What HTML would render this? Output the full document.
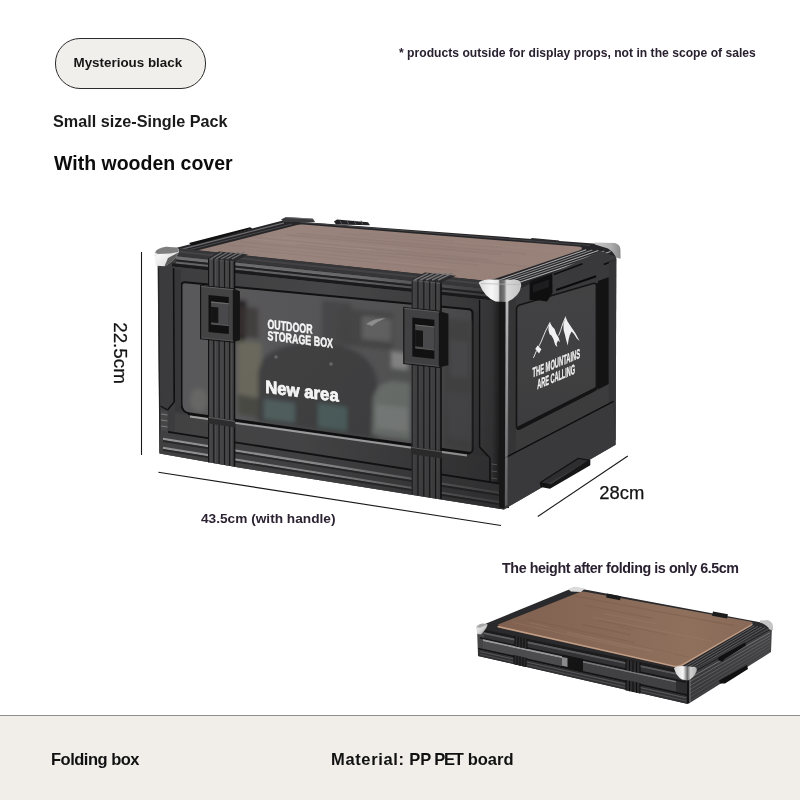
<!DOCTYPE html>
<html lang="en">
<head>
<meta charset="utf-8">
<title>Folding box - Mysterious black</title>
<style>
html,body{margin:0;padding:0;background:#fff;}
body{width:800px;height:800px;overflow:hidden;font-family:"Liberation Sans",sans-serif;}
.page{position:relative;width:800px;height:800px;background:#fff;overflow:hidden;}
.t{position:absolute;opacity:0.999;white-space:nowrap;font-weight:bold;line-height:1;margin:0;color:#111;}
.pill{position:absolute;left:55px;top:38px;width:149px;height:48.5px;border:1px solid #2b2b2b;border-radius:25px;background:#f1efeb;}
.pill span{position:absolute;opacity:0.999;left:17.5px;top:17px;font-weight:bold;font-size:13.4px;line-height:1;color:#161616;white-space:nowrap;}
.h1{left:53px;top:112.5px;font-size:16.2px;color:#1a1a1a;}
.h2{left:54px;top:154px;font-size:19.5px;color:#0c0c0c;}
.note{left:399px;top:47.3px;font-size:12.15px;color:#2a2130;}
.fold{left:502px;top:561.3px;font-size:14.3px;letter-spacing:-0.42px;color:#2a2130;}
.footer{position:absolute;left:0;top:715px;width:800px;height:85px;background:#f1eeea;border-top:1px solid #918d88;box-sizing:border-box;}
.f1{left:51px;top:35px;font-size:16.5px;letter-spacing:-0.5px;color:#111;}
.f2{left:331px;top:35px;font-size:16.5px;color:#111;}
.f2 .a{letter-spacing:0.64px;}
.f2 .b{letter-spacing:-1.25px;margin-left:-1.2px;}
.f2 .c{margin-left:0.4px;}
svg.art{position:absolute;left:0;top:0;width:800px;height:800px;}
svg.art text{font-family:"Liberation Sans",sans-serif;}

</style>
</head>
<body>
<div class="page">
<div class="pill"><span>Mysterious black</span></div>
<p class="t note">* products outside for display props, not in the scope of sales</p>
<h2 class="t h1">Small size-Single Pack</h2>
<h1 class="t h2">With wooden cover</h1>
<svg class="art" viewBox="0 0 800 800" width="800" height="800">
<defs>
<linearGradient id="wood" gradientUnits="userSpaceOnUse" x1="194" y1="0" x2="584" y2="0">
 <stop offset="0" stop-color="#927d77"/><stop offset="0.25" stop-color="#99847e"/><stop offset="0.6" stop-color="#968078"/><stop offset="1" stop-color="#98827a"/>
</linearGradient>
<linearGradient id="front" gradientUnits="userSpaceOnUse" x1="157" y1="0" x2="505" y2="0">
 <stop offset="0" stop-color="#4e4e50"/><stop offset="0.55" stop-color="#4a4a4c"/><stop offset="0.9" stop-color="#464648"/><stop offset="1" stop-color="#3c3c3e"/>
</linearGradient>
<linearGradient id="lidband" gradientUnits="userSpaceOnUse" x1="157" y1="0" x2="505" y2="0">
 <stop offset="0" stop-color="#4e4e50"/><stop offset="0.5" stop-color="#5a5a5c"/><stop offset="0.8" stop-color="#505052"/><stop offset="1" stop-color="#444446"/>
</linearGradient>
<linearGradient id="hl" gradientUnits="userSpaceOnUse" x1="157" y1="0" x2="505" y2="0">
 <stop offset="0" stop-color="#8e8e90"/><stop offset="0.6" stop-color="#868688"/><stop offset="1" stop-color="#4a4a4c"/>
</linearGradient>
<linearGradient id="lframe" gradientUnits="userSpaceOnUse" x1="157" y1="0" x2="505" y2="0"><stop offset="0" stop-color="#545456"/><stop offset="0.4" stop-color="#5a5a5c"/><stop offset="0.75" stop-color="#4c4c4e"/><stop offset="1" stop-color="#444446"/></linearGradient>
<linearGradient id="base" gradientUnits="userSpaceOnUse" x1="157" y1="0" x2="505" y2="0">
 <stop offset="0" stop-color="#525254"/><stop offset="0.4" stop-color="#565658"/><stop offset="0.75" stop-color="#4c4c4e"/><stop offset="1" stop-color="#464648"/>
</linearGradient>
<linearGradient id="basehl" gradientUnits="userSpaceOnUse" x1="157" y1="0" x2="505" y2="0">
 <stop offset="0" stop-color="#bcbcbe"/><stop offset="0.45" stop-color="#b4b4b6"/><stop offset="0.75" stop-color="#7a7a7c"/><stop offset="1" stop-color="#5a5a5c"/>
</linearGradient>
<linearGradient id="right" gradientUnits="userSpaceOnUse" x1="0" y1="260" x2="0" y2="500">
 <stop offset="0" stop-color="#4a4a4c"/><stop offset="0.5" stop-color="#4e4e50"/><stop offset="1" stop-color="#4a4a4c"/>
</linearGradient>
<linearGradient id="panel" gradientUnits="userSpaceOnUse" x1="0" y1="290" x2="0" y2="430">
 <stop offset="0" stop-color="#555557"/><stop offset="0.6" stop-color="#525254"/><stop offset="1" stop-color="#4e4e50"/>
</linearGradient>
<linearGradient id="glass" gradientUnits="userSpaceOnUse" x1="183" y1="0" x2="471" y2="0">
 <stop offset="0" stop-color="#737375"/><stop offset="0.3" stop-color="#707072"/><stop offset="0.75" stop-color="#6c6c6e"/><stop offset="1" stop-color="#606062"/>
</linearGradient>
<linearGradient id="silver" x1="0" y1="0" x2="1" y2="1">
 <stop offset="0" stop-color="#bdbdbd"/><stop offset="0.3" stop-color="#f6f6f6"/><stop offset="0.7" stop-color="#e2e2e2"/><stop offset="1" stop-color="#6f6f6f"/>
</linearGradient>
<linearGradient id="silverR" gradientUnits="userSpaceOnUse" x1="479" y1="0" x2="521" y2="0">
 <stop offset="0" stop-color="#d8d8d8"/><stop offset="0.3" stop-color="#f7f7f7"/><stop offset="0.46" stop-color="#e4e4e4"/><stop offset="0.5" stop-color="#5c5c5c"/><stop offset="0.6" stop-color="#777"/><stop offset="0.66" stop-color="#d9d9d9"/><stop offset="1" stop-color="#c4c4c4"/>
</linearGradient>
<linearGradient id="silverB" x1="0" y1="0" x2="1" y2="0">
 <stop offset="0" stop-color="#c8c8c8"/><stop offset="0.6" stop-color="#b0b0b0"/><stop offset="1" stop-color="#8a8a8a"/>
</linearGradient>
<pattern id="strapL" patternUnits="userSpaceOnUse" x="208" y="0" width="5.3" height="10">
 <rect x="0" y="0" width="5.3" height="10" fill="#58585a"/><rect x="0" y="0" width="1.4" height="10" fill="#161617"/><rect x="1.4" y="0" width="0.9" height="10" fill="#6c6c6e"/>
</pattern>
<pattern id="strapR" patternUnits="userSpaceOnUse" x="411.5" y="0" width="5.9" height="10">
 <rect x="0" y="0" width="5.9" height="10" fill="#555557"/><rect x="0" y="0" width="1.5" height="10" fill="#18181a"/><rect x="1.5" y="0" width="0.9" height="10" fill="#6c6c6e"/>
</pattern>
<filter id="b1" x="-20%" y="-20%" width="140%" height="140%"><feGaussianBlur stdDeviation="1"/></filter>
<filter id="b2" x="-20%" y="-20%" width="140%" height="140%"><feGaussianBlur stdDeviation="2.2"/></filter>
<filter id="b4" x="-30%" y="-30%" width="160%" height="160%"><feGaussianBlur stdDeviation="4"/></filter>
<filter id="b05" x="-20%" y="-20%" width="140%" height="140%"><feGaussianBlur stdDeviation="0.5"/></filter>
</defs>
<g id="mainbox">
<polygon points="156.0,253.0 283.0,220.5 600.0,244.0 617.0,249.0 618.0,256.0 512.0,292.0 160.0,258.0" fill="#262628" />
<polygon points="189.0,243.0 250.0,227.3 252.5,228.6 192.0,245.5" fill="#111112" />
<line x1="178.0" y1="250.2" x2="284.0" y2="222.8" stroke="#6e6e70" stroke-width="1.2" />
<line x1="186.0" y1="250.6" x2="292.0" y2="224.0" stroke="#4a4a4c" stroke-width="1" />
<polygon points="281.0,219.5 286.0,217.0 313.0,218.7 315.0,222.0 284.0,222.0" fill="#3a3a3c" />
<line x1="286.0" y1="217.5" x2="313.0" y2="219.0" stroke="#77777a" stroke-width="0.8" />
<polygon points="528.0,240.5 532.0,238.0 559.0,240.5 561.0,244.0 530.0,243.0" fill="#2c2c2e" />
<polygon points="334.0,221.6 337.0,219.6 368.0,222.2 370.0,225.2 336.0,224.4" fill="#222224" />
<line x1="340.0" y1="220.6" x2="342.0" y2="224.6" stroke="#5a5a5c" stroke-width="0.9" />
<line x1="347.0" y1="220.6" x2="349.0" y2="224.6" stroke="#5a5a5c" stroke-width="0.9" />
<line x1="354.0" y1="220.6" x2="356.0" y2="224.6" stroke="#5a5a5c" stroke-width="0.9" />
<line x1="361.0" y1="220.6" x2="363.0" y2="224.6" stroke="#5a5a5c" stroke-width="0.9" />
<line x1="300.0" y1="222.3" x2="590.0" y2="245.5" stroke="#4a4a4c" stroke-width="0.8" />
<path d="M197,250.4 L296,225.2 Q299,224.2 303,224.5 L578,246.6 Q585,247.4 580,250.2 L495,278.8 Q488,281.2 482,280.6 L197,250.4 Z" fill="url(#wood)"/>
<clipPath id="wclip"><path d="M197,250.4 L296,225.2 Q299,224.2 303,224.5 L578,246.6 Q585,247.4 580,250.2 L495,278.8 Q488,281.2 482,280.6 L197,250.4 Z"/></clipPath>
<g clip-path="url(#wclip)" opacity="0.5">
<line x1="285.5" y1="234.8" x2="501.1" y2="254.4" stroke="#826d68" stroke-width="1.6212742919913083" opacity="0.5"/>
<line x1="368.9" y1="234.7" x2="558.2" y2="250.9" stroke="#ab9993" stroke-width="0.8374956584419849" opacity="0.5"/>
<line x1="263.4" y1="236.4" x2="410.6" y2="250.1" stroke="#ae9b94" stroke-width="0.8591105060789892" opacity="0.5"/>
<line x1="377.9" y1="251.7" x2="476.9" y2="261.2" stroke="#89746f" stroke-width="1.7477089424570056" opacity="0.5"/>
<line x1="297.1" y1="244.3" x2="525.9" y2="266.4" stroke="#826d68" stroke-width="1.3566648979370926" opacity="0.5"/>
<line x1="341.9" y1="233.6" x2="502.1" y2="247.5" stroke="#89746f" stroke-width="1.1084818241019345" opacity="0.5"/>
<line x1="243.2" y1="247.1" x2="447.6" y2="267.8" stroke="#ab9993" stroke-width="1.1723975427257312" opacity="0.5"/>
<line x1="251.5" y1="239.0" x2="395.8" y2="252.8" stroke="#ab9993" stroke-width="1.296414495113492" opacity="0.5"/>
<line x1="356.4" y1="248.5" x2="456.0" y2="257.9" stroke="#ae9b94" stroke-width="1.1615823559445664" opacity="0.5"/>
<line x1="296.8" y1="233.4" x2="526.2" y2="253.9" stroke="#826d68" stroke-width="1.3744237102586712" opacity="0.5"/>
<line x1="371.2" y1="249.6" x2="494.7" y2="261.4" stroke="#85706b" stroke-width="1.4089590190364036" opacity="0.5"/>
<line x1="360.7" y1="233.3" x2="453.8" y2="241.2" stroke="#85706b" stroke-width="0.9519845346605048" opacity="0.5"/>
<line x1="253.7" y1="237.3" x2="489.0" y2="259.5" stroke="#89746f" stroke-width="1.3730259402773841" opacity="0.5"/>
<line x1="257.0" y1="250.5" x2="459.0" y2="271.2" stroke="#89746f" stroke-width="1.2966747952989877" opacity="0.5"/>
<line x1="228.7" y1="245.0" x2="378.2" y2="260.0" stroke="#85706b" stroke-width="1.2740983374196446" opacity="0.5"/>
<line x1="240.2" y1="241.7" x2="478.5" y2="265.1" stroke="#89746f" stroke-width="1.7930959394666341" opacity="0.5"/>
</g>
<line x1="495.3" y1="281.4" x2="586.2" y2="249.7" stroke="#b2b2b4" stroke-width="1.05" opacity="0.95"/>
<line x1="497.8" y1="282.8" x2="592.3" y2="250.1" stroke="#8c8c8e" stroke-width="1.05" opacity="0.95"/>
<line x1="500.2" y1="284.2" x2="598.4" y2="250.6" stroke="#b2b2b4" stroke-width="1.05" opacity="0.95"/>
<line x1="502.7" y1="285.6" x2="604.4" y2="251.1" stroke="#8c8c8e" stroke-width="1.05" opacity="0.95"/>
<line x1="505.2" y1="287.1" x2="610.5" y2="251.6" stroke="#b2b2b4" stroke-width="1.05" opacity="0.95"/>
<polygon points="157.5,254.0 505.0,291.0 504.0,509.4 320.0,480.3 240.0,467.8 159.4,453.6" fill="url(#front)" />
<polygon points="170.0,247.3 500.0,282.2 500.0,290.3 170.0,255.4" fill="#363638" />
<polygon points="178.0,250.6 498.0,284.5 498.0,286.5 178.0,252.6" fill="#47474a" opacity="0.8"/>
<polygon points="176.0,256.2 498.0,290.3 498.0,293.5 176.0,259.4" fill="url(#hl)" />
<polygon points="176.0,259.4 498.0,293.5 498.0,295.5 176.0,261.4" fill="#2c2c2e" />
<polygon points="176.0,261.6 498.0,295.7 498.0,297.7 176.0,263.6" fill="url(#hl)" opacity="0.8"/>
<polygon points="172.0,263.2 500.0,297.9 500.0,301.3 172.0,266.6" fill="#222224" />
<polygon points="172.0,266.6 500.0,301.3 500.0,312.8 172.0,281.5" fill="url(#lidband)" />
<path d="M185,282.3 L469,309.3 Q472.5,309.7 472.5,313 L472.5,449 Q472.5,453.2 468.5,452.6 L190,413.6 Q181.5,412.5 181.5,404 L181.5,285.5 Q181.5,282 185,282.3 Z" fill="url(#glass)" stroke="#161617" stroke-width="2"/>
<clipPath id="gclip"><path d="M185,282.3 L469,309.3 Q472.5,309.7 472.5,313 L472.5,449 Q472.5,453.2 468.5,452.6 L190,413.6 Q181.5,412.5 181.5,404 L181.5,285.5 Q181.5,282 185,282.3 Z"/></clipPath>
<g clip-path="url(#gclip)">
<g filter="url(#b2)">
<ellipse cx="199" cy="400" rx="9" ry="12" fill="#8a8a88" opacity="0.7"/>
<polygon points="236.0,300.0 246.0,301.0 245.0,344.0 236.0,343.0" fill="#2a2627" opacity="0.9"/>
<polygon points="238.0,340.0 262.0,343.0 260.0,400.0 238.0,396.0" fill="#8c8a78" opacity="0.85"/>
<polygon points="238.0,306.0 258.0,308.0 258.0,338.0 238.0,336.0" fill="#4a4242" opacity="0.7"/>
<polygon points="238.0,394.0 258.0,398.0 258.0,418.0 238.0,414.0" fill="#5a5a52" opacity="0.8"/>
<path d="M272,352 Q298,338 332,344 Q372,351 377,380 L379,440 L258,422 L258,374 Q260,358 272,352 Z" fill="#515153" opacity="0.95"/>
<polygon points="322.0,300.0 352.0,303.0 352.0,346.0 322.0,342.0" fill="#58585a" opacity="0.8"/>
<polygon points="338.0,308.0 393.0,313.0 393.0,350.0 338.0,345.0" fill="#5a5a5a" opacity="0.9"/>
<polygon points="362.0,316.0 391.0,319.0 391.0,342.0 362.0,339.0" fill="#828282" opacity="0.9"/>
<polygon points="264.0,399.0 295.0,403.0 295.0,423.0 264.0,419.0" fill="#6c8380" opacity="0.85"/>
<polygon points="318.0,403.0 347.0,407.0 347.0,431.0 318.0,427.0" fill="#65807c" opacity="0.85"/>
<path d="M373,398 Q377,383 392,381 L410,383 L410,440 L372,435 Z" fill="#8a908c" opacity="0.95"/>
<polygon points="376.0,404.0 408.0,408.0 408.0,432.0 376.0,428.0" fill="#a0a5a1" opacity="0.8"/>
<polygon points="391.0,351.0 408.0,353.0 408.0,370.0 391.0,368.0" fill="#b4b4b2" opacity="0.9"/>
<polygon points="393.0,368.0 407.0,370.0 407.0,382.0 393.0,380.0" fill="#6a6e6c" opacity="0.8"/>
<polygon points="442.0,318.0 472.0,321.0 472.0,452.0 442.0,448.0" fill="#565658" opacity="0.9"/>
<polygon points="451.0,340.0 468.0,342.0 468.0,378.0 451.0,376.0" fill="#646466" opacity="0.8"/>
<polygon points="448.0,392.0 470.0,394.0 470.0,440.0 448.0,437.0" fill="#5e5e60" opacity="0.8"/>
</g>
<path d="M366,324 Q374,318 386,318 Q378,321 372,326 Z" fill="#c8c8c8" opacity="0.8" filter="url(#b05)"/>
<circle cx="276" cy="357" r="1.8" fill="#9a9a98" opacity="0.7" filter="url(#b05)"/>
<circle cx="331" cy="364" r="1.8" fill="#a0a09e" opacity="0.7" filter="url(#b05)"/>
</g>
<polygon points="158.0,266.0 172.5,267.5 173.5,402.0 167.0,409.5 160.5,405.5 159.0,400.0" fill="#4c4c4f" />
<line x1="173.6" y1="268.0" x2="174.2" y2="402.0" stroke="#141415" stroke-width="1.6" />
<line x1="174.2" y1="402.0" x2="167.5" y2="410.0" stroke="#141415" stroke-width="1.4" />
<line x1="167.5" y1="410.0" x2="160.5" y2="406.0" stroke="#141415" stroke-width="1.2" />
<line x1="158.6" y1="268.0" x2="160.0" y2="452.0" stroke="#2a2a2c" stroke-width="1" />
<polygon points="175.0,269.0 181.0,270.0 181.0,412.0 175.0,411.0" fill="#47474a" />
<polygon points="161.0,410.0 167.5,411.5 167.5,433.0 161.0,431.5" fill="#5a5a5c" />
<line x1="161.0" y1="414.0" x2="167.5" y2="415.0" stroke="#b0b0b2" stroke-width="1.2" opacity="0.8"/>
<line x1="161.0" y1="420.0" x2="167.5" y2="421.0" stroke="#b0b0b2" stroke-width="1.2" opacity="0.8"/>
<line x1="161.0" y1="426.0" x2="167.5" y2="427.0" stroke="#b0b0b2" stroke-width="1.2" opacity="0.8"/>
<linearGradient id="rpil" gradientUnits="userSpaceOnUse" x1="480" y1="0" x2="500" y2="0"><stop offset="0" stop-color="#4c4c4e"/><stop offset="0.6" stop-color="#464648"/><stop offset="1" stop-color="#262627"/></linearGradient>
<polygon points="480.0,299.0 499.0,301.0 499.0,484.0 490.0,482.4 490.0,458.0 481.0,447.5 480.0,447.0" fill="url(#rpil)" />
<line x1="479.6" y1="300.0" x2="479.6" y2="447.0" stroke="#141415" stroke-width="1.4" />
<line x1="479.6" y1="447.0" x2="490.0" y2="458.0" stroke="#141415" stroke-width="1.4" />
<line x1="490.0" y1="458.0" x2="490.0" y2="482.4" stroke="#141415" stroke-width="1.4" />
<line x1="491.5" y1="464.0" x2="497.0" y2="464.8" stroke="#8a8a8c" stroke-width="1.1" opacity="0.7"/>
<line x1="491.5" y1="471.0" x2="497.0" y2="471.8" stroke="#8a8a8c" stroke-width="1.1" opacity="0.7"/>
<line x1="491.5" y1="478.0" x2="497.0" y2="478.8" stroke="#8a8a8c" stroke-width="1.1" opacity="0.7"/>
<polygon points="499.0,294.0 509.0,296.0 509.0,508.0 499.0,508.6" fill="#1b1b1c" />
<polygon points="175.0,413.1 489.0,457.1 489.0,482.1 175.0,433.0" fill="url(#lframe)" />
<line x1="188.0" y1="414.0" x2="470.0" y2="453.4" stroke="#141415" stroke-width="2.2" />
<line x1="190.0" y1="416.5" x2="467.0" y2="455.5" stroke="#d8d8da" stroke-width="1.8" opacity="0.92"/>
<polygon points="160.6,430.6 500.0,483.8 504.0,509.4 320.0,480.3 240.0,467.8 159.4,453.6" fill="url(#base)" />
<polygon points="168.0,430.9 500.0,482.8 500.0,484.6 168.0,432.7" fill="#161617" />
<polygon points="163.0,437.7 499.0,491.7 499.0,494.1 163.0,440.1" fill="url(#basehl)" />
<polygon points="163.0,440.1 499.0,494.1 499.0,495.9 163.0,441.9" fill="#2a2a2c" opacity="0.8"/>
<polygon points="163.0,446.7 499.0,501.0 499.0,503.2 163.0,448.9" fill="url(#basehl)" />
<polygon points="163.0,448.9 499.0,503.2 499.0,505.0 163.0,450.7" fill="#2a2a2c" opacity="0.8"/>
<polygon points="507.0,295.0 600.0,251.0 616.3,257.0 615.6,444.7 504.0,509.4" fill="url(#right)" />
<line x1="553.8" y1="274.4" x2="582.5" y2="263.8" stroke="#121213" stroke-width="1.6" />
<line x1="603.8" y1="264.4" x2="615.5" y2="260.0" stroke="#121213" stroke-width="1.6" />
<polygon points="509.0,300.0 516.0,298.0 516.0,500.0 509.0,505.0" fill="#444446" />
<path d="M516.5,309.5 Q516.5,306 519.5,305 L593,283.6 Q596.5,282.6 596.5,286 L596.5,386 Q596.5,389.5 593.5,391 L520.5,428.5 Q516.5,430.5 516.5,426 Z" fill="url(#panel)" stroke="#1a1a1b" stroke-width="1.6"/>
<line x1="518.0" y1="428.2" x2="596.0" y2="388.6" stroke="#1a1a1b" stroke-width="3.2" stroke-linecap="round"/>
<line x1="597.0" y1="283.0" x2="597.0" y2="388.0" stroke="#1a1a1b" stroke-width="2.2" />
<polygon points="598.0,281.0 608.8,277.0 608.8,384.0 598.0,389.5" fill="#19191a" />
<polygon points="608.8,262.0 616.3,259.0 615.8,440.0 608.8,444.0" fill="#454547" />
<polygon points="529.6,281.0 552.3,273.5 552.5,293.0 547.0,301.5 540.0,300.5 529.6,300.0" fill="#141415" />
<polygon points="533.0,285.0 549.0,279.5 549.0,287.0 533.0,292.5" fill="#262628" />
<line x1="556.2" y1="290.0" x2="596.2" y2="276.2" stroke="#0e0e0f" stroke-width="2" />
<polygon points="505.0,459.0 612.8,402.8 615.6,444.7 504.0,509.4" fill="#4a4a4c" />
<line x1="505.0" y1="457.8" x2="613.5" y2="401.4" stroke="#101011" stroke-width="1.3" />
<polygon points="539.7,482.2 578.0,457.8 590.3,459.7 590.3,465.3 550.0,488.8 540.6,486.9" fill="#161617" />
<polygon points="541.5,482.6 578.5,459.0 588.0,460.4 551.0,484.2" fill="#3c3c3e" />
<polygon points="208.0,258.0 234.5,260.6 234.5,466.4 208.0,462.2" fill="url(#strapL)" />
<line x1="234.5" y1="260.6" x2="234.5" y2="466.4" stroke="#161617" stroke-width="1.6" />
<polygon points="411.5,279.0 441.0,281.9 441.0,498.9 411.5,494.2" fill="url(#strapR)" />
<line x1="441.0" y1="281.9" x2="441.0" y2="498.9" stroke="#161617" stroke-width="1.6" />
<polygon points="208.0,258.5 219.0,251.5 248.0,254.5 234.5,261.5" fill="#2a2a2c" />
<line x1="210.6" y1="259.0" x2="222.0" y2="252.2" stroke="#6e6e70" stroke-width="1.3" />
<line x1="215.9" y1="259.0" x2="227.6" y2="252.2" stroke="#6e6e70" stroke-width="1.3" />
<line x1="221.2" y1="259.0" x2="233.2" y2="252.2" stroke="#6e6e70" stroke-width="1.3" />
<line x1="226.5" y1="259.0" x2="238.8" y2="252.2" stroke="#6e6e70" stroke-width="1.3" />
<line x1="231.8" y1="259.0" x2="244.4" y2="252.2" stroke="#6e6e70" stroke-width="1.3" />
<polygon points="411.5,279.5 425.0,272.5 456.0,275.8 441.0,282.8" fill="#2a2a2c" />
<line x1="414.4" y1="280.0" x2="428.4" y2="273.2" stroke="#747476" stroke-width="1.4" />
<line x1="420.3" y1="280.0" x2="434.4" y2="273.2" stroke="#747476" stroke-width="1.4" />
<line x1="426.2" y1="280.0" x2="440.4" y2="273.2" stroke="#747476" stroke-width="1.4" />
<line x1="432.1" y1="280.0" x2="446.4" y2="273.2" stroke="#747476" stroke-width="1.4" />
<line x1="438.0" y1="280.0" x2="452.4" y2="273.2" stroke="#747476" stroke-width="1.4" />
<polygon points="208.5,416.5 235.0,420.5 235.0,427.5 208.5,423.5" fill="#3a3a3c" />
<line x1="209.0" y1="417.4" x2="235.0" y2="421.4" stroke="#7c7c7e" stroke-width="1" />
<polygon points="411.0,446.5 442.0,451.0 442.0,458.5 411.0,454.0" fill="#3a3a3c" />
<line x1="411.5" y1="447.4" x2="442.0" y2="451.9" stroke="#7c7c7e" stroke-width="1" />
<polygon points="233.4,288.8 239.9,291.3 239.9,340.0 233.4,342.0" fill="#1b1b1c" />
<path d="M200.6,285.6 L233.4,288.8 L233.4,342.0 L200.6,338.8 Z" fill="#565658" stroke="#1a1a1b" stroke-width="1.2"/>
<polygon points="208.5,294.9 228.8,296.9 228.8,334.1 208.5,332.1" fill="#171718" />
<polygon points="211.1,301.5 228.8,303.2 228.8,325.6 211.1,323.9" fill="#5e5e60" />
<polygon points="211.1,306.8 218.3,307.5 218.3,323.0 211.1,322.3" fill="#1c1c1d" />
<line x1="211.1" y1="302.1" x2="228.8" y2="303.8" stroke="#8a8a8c" stroke-width="1.1" />
<line x1="211.1" y1="323.9" x2="228.8" y2="325.6" stroke="#767678" stroke-width="1" />
<line x1="201.0" y1="286.4" x2="233.4" y2="289.6" stroke="#7a7a7c" stroke-width="1" />
<line x1="201.6" y1="337.8" x2="233.4" y2="341.0" stroke="#6a6a6c" stroke-width="1" />
<polygon points="439.4,311.3 448.4,313.8 448.4,365.3 439.4,367.3" fill="#1b1b1c" />
<path d="M403.8,307.5 L439.4,311.3 L439.4,367.3 L403.8,363.5 Z" fill="#575759" stroke="#1a1a1b" stroke-width="1.2"/>
<polygon points="412.3,317.4 434.4,319.7 434.4,358.9 412.3,356.6" fill="#171718" />
<polygon points="415.2,324.4 434.4,326.4 434.4,350.0 415.2,347.9" fill="#626264" />
<polygon points="415.2,330.0 423.0,330.8 423.0,347.1 415.2,346.2" fill="#1c1c1d" />
<line x1="415.2" y1="325.0" x2="434.4" y2="327.0" stroke="#8a8a8c" stroke-width="1.1" />
<line x1="415.2" y1="347.9" x2="434.4" y2="350.0" stroke="#767678" stroke-width="1" />
<line x1="404.2" y1="308.3" x2="439.4" y2="312.1" stroke="#7a7a7c" stroke-width="1" />
<line x1="404.8" y1="362.5" x2="439.4" y2="366.3" stroke="#6a6a6c" stroke-width="1" />
<linearGradient id="shadeX" gradientUnits="userSpaceOnUse" x1="300" y1="300" x2="505" y2="500"><stop offset="0" stop-color="#000" stop-opacity="0"/><stop offset="0.6" stop-color="#000" stop-opacity="0.06"/><stop offset="1" stop-color="#000" stop-opacity="0.16"/></linearGradient>
<polygon points="157.5,254.0 505.0,291.0 504.0,509.4 320.0,480.3 240.0,467.8 159.4,453.6" fill="url(#shadeX)" />
<polygon points="157.5,254.0 505.0,291.0 504.0,509.4 320.0,480.3 240.0,467.8 159.4,453.6" fill="#000" opacity="0.22"/>
<polygon points="507.0,295.0 600.0,251.0 616.3,257.0 615.6,444.7 504.0,509.4" fill="#000" opacity="0.22"/>
<g transform="matrix(1,0.12,0,1,0,0)" fill="#f8f8f8" stroke="#f8f8f8" stroke-width="0.45" font-weight="bold" opacity="0.99">
<text x="267.5" y="296.4" font-size="13.2" textLength="45" lengthAdjust="spacingAndGlyphs">OUTDOOR</text>
<text x="267.5" y="307.9" font-size="13.2" textLength="65.5" lengthAdjust="spacingAndGlyphs">STORAGE BOX</text>
<text x="265.2" y="361" font-size="17.8" stroke-width="0.8" textLength="73.5" lengthAdjust="spacingAndGlyphs">New area</text>
</g>
<g fill="#f0f0f0" stroke="none">
<path d="M549.9,322.6 L552.2,326.5 L554.6,329.0 L556.2,333.8 L558.6,337.6 L560.0,342.2 L558.0,340.5 L556.6,343.8 L557.4,347.0 L555.2,345.0 L553.4,339.0 L551.4,335.6 L549.6,334.2 L548.4,330.0 L548.6,326.0 Z"/>
<path d="M565.6,317.0 L567.6,321.6 L570.2,325.4 L572.6,329.0 L575.6,333.6 L579.6,341.0 L576.8,338.4 L574.0,334.0 L571.6,331.6 L569.8,335.0 L568.6,339.6 L567.8,345.6 L566.4,341.0 L565.0,335.0 L563.6,330.0 L563.4,324.0 Z"/>
<path d="M535.2,349.0 L537.6,345.6 L541.4,349.2 L539.0,353.4 L536.6,350.6 Z"/>
</g>
<g fill="none" stroke="#f0f0f0" stroke-width="0.9" stroke-linecap="round">
<path d="M549.9,322.6 L545.6,331 L541.0,342.0 L538.0,348.0 M536.4,351 L533.6,357.5"/>
<path d="M565.6,317.0 L562.6,324.0 L560.6,330.5 L558.8,335.2"/>
</g>
<g transform="translate(532.5,377.6) skewY(-22.5)" fill="#f4f4f4" stroke="#f4f4f4" stroke-width="0.35" font-weight="bold" opacity="0.99">
<text x="0" y="0" font-size="13.6" textLength="47.5" lengthAdjust="spacingAndGlyphs">THE MOUNTAINS</text>
<text x="4.75" y="13.6" font-size="13.6" textLength="37.75" lengthAdjust="spacingAndGlyphs">ARE CALLING</text>
</g>
<linearGradient id="edgehl" gradientUnits="userSpaceOnUse" x1="0" y1="300" x2="0" y2="506"><stop offset="0" stop-color="#c4c4c6" stop-opacity="0.95"/><stop offset="0.5" stop-color="#a0a0a2" stop-opacity="0.8"/><stop offset="1" stop-color="#8a8a8c" stop-opacity="0.45"/></linearGradient>
<polygon points="499.0,296.0 505.4,297.0 504.6,508.0 499.0,507.4" fill="#171718" />
<polygon points="505.6,300.0 508.4,300.0 507.4,505.0 505.0,506.0" fill="url(#edgehl)" />
<path d="M154.8,252.5 Q156,248.5 166,246.6 L176,247.4 Q180,248.4 178.6,252.4 Q175,261 164.5,266.2 L156,265.8 Q154.6,262 154.8,252.5 Z" fill="url(#silver)"/>
<path d="M155.2,252.4 Q156.5,248.6 166,246.8 L176,247.6 Q179.6,248.4 178.4,252 L170,253.4 L158,254 Z" fill="#7e7e7e"/>
<path d="M178.4,252.4 Q175,261 164.5,266.2 L168,258 Z" fill="#3c3c3c" opacity="0.8"/>
<path d="M478.6,282.8 Q480,280 488,279.4 L516,279.8 Q521.5,280.6 521.2,286 Q519.5,296.5 507,302 L495.5,301.4 Q485,298 478.6,282.8 Z" fill="url(#silverR)"/>
<path d="M481,283.6 L520,284.6" stroke="#b4b4b4" stroke-width="1" fill="none" opacity="0.7"/>
<path d="M594.4,242.5 L615,243 Q620,244.5 620.4,249 L620.6,258.75 L616.25,257.5 Q613,251.5 608,248.6 L595,244.6 Z" fill="url(#silverB)"/>
<g opacity="0.99">
<line x1="141.5" y1="252.0" x2="141.5" y2="455.0" stroke="#161616" stroke-width="1.1" />
<line x1="158.4" y1="472.2" x2="501.0" y2="525.5" stroke="#161616" stroke-width="1.1" />
<line x1="537.8" y1="516.5" x2="627.8" y2="456.0" stroke="#161616" stroke-width="1.1" />
<text x="599.3" y="498.6" font-size="18" fill="#111" stroke="#111" stroke-width="0.25" textLength="45" lengthAdjust="spacingAndGlyphs">28cm</text>
<text transform="translate(113.7,322.2) rotate(90)" font-size="18.4" fill="#111" stroke="#111" stroke-width="0.25" textLength="61.6" lengthAdjust="spacingAndGlyphs">22.5cm</text>
<text x="201" y="523" font-size="13.2" font-weight="bold" fill="#2a2130" textLength="134.5" lengthAdjust="spacingAndGlyphs">43.5cm (with handle)</text>
</g>
</g>
<defs>
<linearGradient id="wood2" gradientUnits="userSpaceOnUse" x1="497" y1="0" x2="753" y2="0">
 <stop offset="0" stop-color="#80614f"/><stop offset="0.4" stop-color="#886957"/><stop offset="0.75" stop-color="#8f705d"/><stop offset="1" stop-color="#886957"/>
</linearGradient>
<linearGradient id="ffront" gradientUnits="userSpaceOnUse" x1="477" y1="0" x2="688" y2="0">
 <stop offset="0" stop-color="#454547"/><stop offset="0.6" stop-color="#3c3c3e"/><stop offset="1" stop-color="#2c2c2e"/>
</linearGradient>
<linearGradient id="fright" gradientUnits="userSpaceOnUse" x1="688" y1="0" x2="772" y2="0">
 <stop offset="0" stop-color="#38383a"/><stop offset="1" stop-color="#444446"/>
</linearGradient>
<linearGradient id="fsilver" x1="0" y1="0" x2="1" y2="1">
 <stop offset="0" stop-color="#f4f4f4"/><stop offset="0.5" stop-color="#d6d6d6"/><stop offset="1" stop-color="#8a8a8a"/>
</linearGradient>
</defs>
<g id="foldbox">
<polygon points="476.5,627.5 574.0,587.5 772.0,624.5 772.0,628.0 688.0,674.0 478.0,632.0" fill="#2a2a2c" />
<path d="M497,626.4 L580,593.0 Q582,592.2 585,592.7 L750,622.6 Q755,623.6 751,626 L682,666 Q678,668 674,667 L498,627.6 Z" fill="#c29d84"/>
<path d="M498,624.6 L580,592.0 Q582,591.2 585,591.7 L750,621.4 Q755,622.4 751,624.6 L682,664.2 Q678,666.2 674,665.4 L499,626 Z" fill="url(#wood2)"/>
<clipPath id="w2clip"><path d="M498,624.6 L580,592.0 Q582,591.2 585,591.7 L750,621.4 Q755,622.4 751,624.6 L682,664.2 Q678,666.2 674,665.4 L499,626 Z"/></clipPath>
<g clip-path="url(#w2clip)" opacity="0.5">
<line x1="592.2" y1="617.0" x2="712.1" y2="641.3" stroke="#a68874" stroke-width="1.1614658564796523" opacity="0.5"/>
<line x1="529.9" y1="622.8" x2="674.0" y2="654.4" stroke="#a68874" stroke-width="1.3039061761734416" opacity="0.5"/>
<line x1="526.0" y1="619.0" x2="633.7" y2="642.4" stroke="#6f5242" stroke-width="1.230954806862143" opacity="0.5"/>
<line x1="567.1" y1="632.6" x2="653.0" y2="651.6" stroke="#a68874" stroke-width="1.5718062249004534" opacity="0.5"/>
<line x1="582.5" y1="624.6" x2="630.5" y2="634.7" stroke="#6f5242" stroke-width="1.4653613002799826" opacity="0.5"/>
<line x1="575.2" y1="596.1" x2="734.6" y2="625.7" stroke="#6f5242" stroke-width="1.4224867252345947" opacity="0.5"/>
<line x1="604.1" y1="613.5" x2="656.9" y2="623.9" stroke="#a0826f" stroke-width="1.3122333663353416" opacity="0.5"/>
<line x1="597.8" y1="620.4" x2="667.8" y2="634.7" stroke="#735646" stroke-width="1.125422990308143" opacity="0.5"/>
<line x1="617.8" y1="627.0" x2="631.2" y2="629.8" stroke="#735646" stroke-width="1.05222177361244" opacity="0.5"/>
<line x1="584.8" y1="605.3" x2="652.8" y2="618.4" stroke="#6f5242" stroke-width="1.120319843934793" opacity="0.5"/>
<line x1="548.1" y1="626.4" x2="688.4" y2="657.1" stroke="#6f5242" stroke-width="0.9708013427836741" opacity="0.5"/>
<line x1="512.3" y1="622.2" x2="630.8" y2="648.6" stroke="#a68874" stroke-width="1.1358331207814119" opacity="0.5"/>
</g>
<polygon points="713.0,611.5 728.0,614.2 727.0,618.5 712.0,615.8" fill="#1c1c1d" />
<polygon points="607.0,593.6 621.0,596.2 620.0,600.2 606.0,597.6" fill="#1c1c1d" />
<line x1="683.2" y1="667.8" x2="754.2" y2="625.8" stroke="#77777a" stroke-width="0.8" opacity="0.85"/>
<line x1="685.2" y1="669.2" x2="757.9" y2="626.3" stroke="#77777a" stroke-width="0.8" opacity="0.85"/>
<line x1="687.3" y1="670.5" x2="761.7" y2="626.8" stroke="#77777a" stroke-width="0.8" opacity="0.85"/>
<line x1="689.3" y1="671.9" x2="765.4" y2="627.3" stroke="#77777a" stroke-width="0.8" opacity="0.85"/>
<polygon points="477.0,628.0 688.0,672.0 688.0,704.0 478.0,656.0" fill="url(#ffront)" />
<polygon points="480.0,628.6 686.0,671.6 686.0,674.8 480.0,631.4" fill="#1c1c1d" />
<polygon points="484.0,632.3 684.0,674.4 684.0,676.6 484.0,634.2" fill="#626264" opacity="0.85"/>
<polygon points="484.0,634.2 684.0,676.6 684.0,680.7 484.0,637.8" fill="#333335" />
<polygon points="480.0,637.0 686.0,681.2 686.0,683.1 480.0,638.6" fill="#171718" />
<polygon points="483.0,639.3 563.0,656.6 563.0,658.6 483.0,641.2" fill="#a4a4a6" opacity="0.9"/>
<polygon points="483.0,641.2 563.0,658.6 563.0,666.6 483.0,648.8" fill="#4c4c4e" />
<polygon points="583.0,660.9 676.0,680.9 676.0,682.8 583.0,662.7" fill="#808082" opacity="0.9"/>
<polygon points="583.0,662.7 676.0,682.8 676.0,691.7 583.0,671.0" fill="#414143" />
<polygon points="562.0,654.6 583.0,659.1 583.0,672.2 562.0,667.5" fill="#141415" />
<polygon points="562.0,656.9 567.5,658.1 567.5,667.0 562.0,665.8" fill="#8a8a8c" />
<polygon points="478.0,647.7 688.0,694.4 688.0,696.3 478.0,649.3" fill="#141415" />
<polygon points="478.0,649.3 688.0,696.3 688.0,704.0 478.0,656.0" fill="#303032" />
<polygon points="480.0,650.9 686.0,697.2 686.0,698.4 480.0,652.0" fill="#626264" opacity="0.8"/>
<polygon points="480.0,653.7 686.0,700.3 686.0,701.6 480.0,654.8" fill="#525254" opacity="0.8"/>
<polygon points="515.0,636.5 527.0,639.0 527.0,648.8 515.0,646.2" fill="#2c2c2e" />
<line x1="515.0" y1="636.5" x2="515.0" y2="646.2" stroke="#0e0e0f" stroke-width="1" />
<line x1="518.0" y1="637.1" x2="518.0" y2="646.8" stroke="#0e0e0f" stroke-width="1" />
<line x1="521.0" y1="637.7" x2="521.0" y2="647.5" stroke="#0e0e0f" stroke-width="1" />
<line x1="524.0" y1="638.4" x2="524.0" y2="648.1" stroke="#0e0e0f" stroke-width="1" />
<line x1="527.0" y1="639.0" x2="527.0" y2="648.8" stroke="#0e0e0f" stroke-width="1" />
<polygon points="514.0,655.1 526.0,657.8 526.0,667.0 514.0,664.2" fill="#2c2c2e" />
<line x1="514.0" y1="655.1" x2="514.0" y2="664.2" stroke="#0e0e0f" stroke-width="1" />
<line x1="517.0" y1="655.8" x2="517.0" y2="664.9" stroke="#0e0e0f" stroke-width="1" />
<line x1="520.0" y1="656.4" x2="520.0" y2="665.6" stroke="#0e0e0f" stroke-width="1" />
<line x1="523.0" y1="657.1" x2="523.0" y2="666.3" stroke="#0e0e0f" stroke-width="1" />
<line x1="526.0" y1="657.8" x2="526.0" y2="667.0" stroke="#0e0e0f" stroke-width="1" />
<polygon points="626.0,659.7 640.0,662.6 640.0,673.2 626.0,670.1" fill="#2c2c2e" />
<line x1="626.0" y1="659.7" x2="626.0" y2="670.1" stroke="#0e0e0f" stroke-width="1" />
<line x1="629.5" y1="660.4" x2="629.5" y2="670.9" stroke="#0e0e0f" stroke-width="1" />
<line x1="633.0" y1="661.1" x2="633.0" y2="671.7" stroke="#0e0e0f" stroke-width="1" />
<line x1="636.5" y1="661.9" x2="636.5" y2="672.4" stroke="#0e0e0f" stroke-width="1" />
<line x1="640.0" y1="662.6" x2="640.0" y2="673.2" stroke="#0e0e0f" stroke-width="1" />
<polygon points="626.0,680.0 640.0,683.1 640.0,693.6 626.0,690.4" fill="#2c2c2e" />
<line x1="626.0" y1="680.0" x2="626.0" y2="690.4" stroke="#0e0e0f" stroke-width="1" />
<line x1="629.5" y1="680.8" x2="629.5" y2="691.2" stroke="#0e0e0f" stroke-width="1" />
<line x1="633.0" y1="681.5" x2="633.0" y2="692.0" stroke="#0e0e0f" stroke-width="1" />
<line x1="636.5" y1="682.3" x2="636.5" y2="692.8" stroke="#0e0e0f" stroke-width="1" />
<line x1="640.0" y1="683.1" x2="640.0" y2="693.6" stroke="#0e0e0f" stroke-width="1" />
<polygon points="688.0,672.0 772.0,626.0 771.0,652.0 688.0,704.0" fill="url(#fright)" />
<line x1="690.0" y1="674.1" x2="770.0" y2="629.6" stroke="#1a1a1b" stroke-width="0.9" />
<line x1="690.0" y1="677.9" x2="770.0" y2="632.7" stroke="#7a7a7c" stroke-width="0.9" />
<line x1="690.0" y1="681.7" x2="770.0" y2="635.8" stroke="#6a6a6c" stroke-width="0.9" />
<line x1="690.0" y1="685.6" x2="770.0" y2="638.8" stroke="#626264" stroke-width="0.9" />
<line x1="690.0" y1="689.4" x2="770.0" y2="641.9" stroke="#5c5c5e" stroke-width="0.9" />
<line x1="690.0" y1="693.2" x2="770.0" y2="645.0" stroke="#565658" stroke-width="0.9" />
<line x1="690.0" y1="697.0" x2="770.0" y2="648.0" stroke="#505052" stroke-width="0.9" />
<line x1="690.0" y1="700.8" x2="770.0" y2="651.1" stroke="#48484a" stroke-width="0.9" />
<line x1="688.0" y1="674.0" x2="688.0" y2="703.0" stroke="#111112" stroke-width="2" />
<line x1="690.0" y1="676.0" x2="690.0" y2="702.0" stroke="#8a8a8c" stroke-width="1" opacity="0.7"/>
<polygon points="718.0,657.5 745.0,642.5 746.0,645.5 724.0,659.5 723.0,661.5 718.5,660.5" fill="#101011" />
<polygon points="719.0,680.5 747.0,665.0 748.0,669.0 725.0,683.5 720.0,683.5" fill="#101011" />
<path d="M476.2,627.4 Q477,624.6 483,623.6 L487.6,624.6 Q486.4,629.6 481,634.4 L477.2,634 Z" fill="url(#fsilver)"/>
<path d="M476.4,627.2 Q477,624.6 483,623.6 L487.6,624.6 L480,627.8 Z" fill="#a8a8a8"/>
<path d="M568,589 Q572,586.6 578,587 L585,588.6 L581,592 L571,591.4 Z" fill="#dcdcdc"/>
<path d="M674,668 Q676,666 682,666 L695,667 Q697.4,668 696.6,671 Q694,678 688,680.4 L682,679.6 Q676,676 674,668 Z" fill="url(#silverF)"/>
<linearGradient id="silverF" gradientUnits="userSpaceOnUse" x1="674" y1="0" x2="697" y2="0"><stop offset="0" stop-color="#d4d4d4"/><stop offset="0.4" stop-color="#f6f6f6"/><stop offset="0.58" stop-color="#6a6a6a"/><stop offset="0.72" stop-color="#cfcfcf"/><stop offset="1" stop-color="#b0b0b0"/></linearGradient>
<path d="M760,620.6 L768,620 Q772.6,622 773,626 L773,630.6 L769.6,629.6 Q767,625 760,622.6 Z" fill="#c4c4c4"/>
</g>
</svg>
<p class="t fold">The height after folding is only 6.5cm</p>
<div class="footer">
<span class="t f1">Folding box</span>
<span class="t f2"><span class="a">Material:</span> PP <span class="b">PET</span> <span class="c">board</span></span>
</div>

</div>
</body>
</html>
